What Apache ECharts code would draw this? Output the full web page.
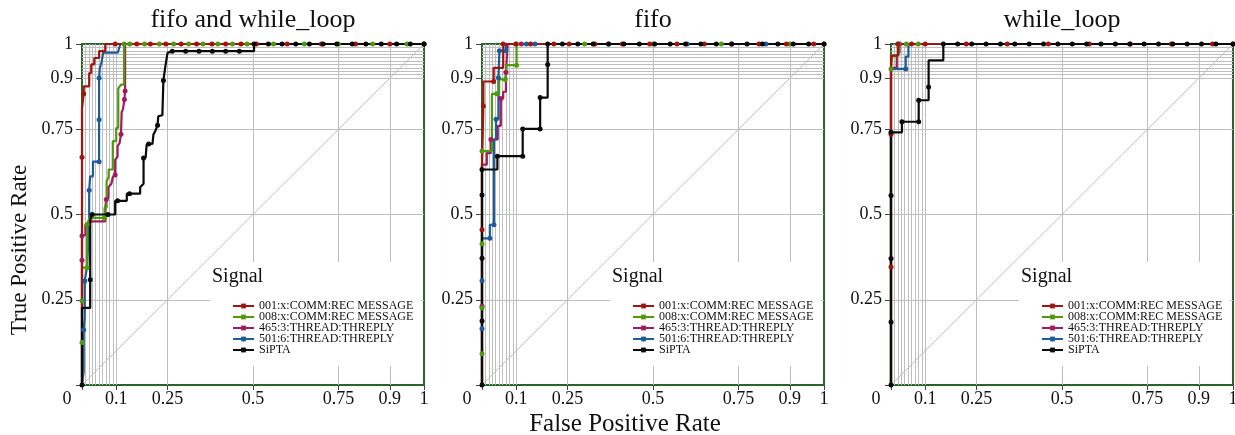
<!DOCTYPE html>
<html><head><meta charset="utf-8">
<script src="https://cdn.jsdelivr.net/npm/echarts@6/dist/echarts.min.js"></script>
<style>html,body{margin:0;padding:0;background:#fff}#c{width:1235px;height:435px}</style>
</head><body><div id="c"></div>
<script>
// ---------- data ----------
const panelTitles = ['fifo and while_loop', 'fifo', 'while_loop'];
const seriesNames = ['001:x:COMM:REC MESSAGE', '008:x:COMM:REC MESSAGE', '465:3:THREAD:THREPLY', '501:6:THREAD:THREPLY', 'SiPTA'];
const xTicks = [0, 0.1, 0.25, 0.5, 0.75, 0.9, 1];
const yTicks = [0, 0.25, 0.5, 0.75, 0.9, 1];
const xMajorGrid = [0.1, 0.25, 0.5, 0.75, 0.9];
const xMinorGrid = [0.01, 0.02, 0.03, 0.04, 0.05, 0.06, 0.07, 0.08, 0.09];
const yMajorGrid = [0.25, 0.5, 0.75, 0.9];
const yMinorGrid = [0.91, 0.92, 0.93, 0.94, 0.95, 0.96, 0.97, 0.98, 0.99];
const xAxisTitle = 'False Positive Rate';
const yAxisTitle = 'True Positive Rate';
const legendTitle = 'Signal';

// ROC points: [FPR, TPR, marker(1) or path corner(0)]
// panel 1: fifo and while_loop
const p1_001 = [[0,0,0],[0,0.44,0],[0,0.668,1],[0,0.81,0],[0.005,0.81,0],[0.005,0.854,1],[0.005,0.876,0],[0.021,0.876,0],[0.021,0.915,0],[0.027,0.915,0],[0.027,0.94,0],[0.036,0.94,0],[0.036,0.959,0],[0.05,0.959,0],[0.05,0.979,0],[0.068,0.979,0],[0.068,1,0],[0.097,1,1],[0.16,1,1],[0.2,1,1],[0.245,1,1],[0.29,1,1],[0.335,1,1],[0.38,1,1],[0.42,1,1],[0.465,1,1],[0.51,1,1],[0.6,1,1],[0.7,1,1],[0.8,1,1],[0.9,1,1],[1,1,1]];
const p1_008 = [[0,0,0],[0,0.125,1],[0,0.247,1],[0,0.344,0],[0.015,0.344,1],[0.015,0.471,1],[0.022,0.49,0],[0.066,0.49,1],[0.066,0.52,0],[0.072,0.52,0],[0.072,0.598,0],[0.078,0.61,0],[0.078,0.632,0],[0.09,0.632,0],[0.09,0.715,0],[0.1,0.715,0],[0.1,0.754,0],[0.106,0.754,0],[0.106,0.87,0],[0.114,0.881,0],[0.123,0.881,0],[0.123,1,1],[0.14,1,1],[0.183,1,1],[0.226,1,1],[0.268,1,1],[0.312,1,1],[0.354,1,1],[0.397,1,1],[0.44,1,1],[0.483,1,1],[0.56,1,1],[0.65,1,1],[0.75,1,1],[0.85,1,1],[0.95,1,1],[1,1,1]];
const p1_465 = [[0,0,0],[0,0.366,1],[0,0.438,1],[0.01,0.44,0],[0.01,0.47,0],[0.03,0.48,0],[0.068,0.48,0],[0.068,0.52,0],[0.071,0.544,1],[0.077,0.55,0],[0.077,0.58,0],[0.086,0.59,0],[0.09,0.61,0],[0.097,0.616,1],[0.097,0.66,0],[0.104,0.67,0],[0.104,0.7,0],[0.11,0.71,0],[0.114,0.735,1],[0.116,0.8,0],[0.12,0.81,0],[0.124,0.837,1],[0.126,0.862,1],[0.126,1,0],[1,1,0]];
const p1_501 = [[0,0,0],[0.005,0.04,0],[0.005,0.162,1],[0.008,0.2,0],[0.008,0.305,1],[0.012,0.33,0],[0.015,0.35,0],[0.02,0.45,0],[0.021,0.5,0],[0.021,0.571,1],[0.024,0.571,0],[0.024,0.612,0],[0.032,0.612,0],[0.032,0.655,0],[0.05,0.655,1],[0.05,0.778,1],[0.05,0.9,1],[0.052,0.93,0],[0.057,0.945,0],[0.062,0.975,0],[0.105,0.975,0],[0.112,1,0],[1,1,0]];
const p1_sipta = [[0,0,1],[0,0.226,0],[0.024,0.226,0],[0.024,0.309,1],[0.024,0.48,0],[0.028,0.5,0],[0.03,0.5,1],[0.076,0.5,1],[0.097,0.5,0],[0.097,0.54,0],[0.104,0.54,1],[0.131,0.54,0],[0.131,0.561,0],[0.139,0.561,1],[0.17,0.561,0],[0.17,0.58,0],[0.18,0.59,0],[0.18,0.666,1],[0.186,0.666,0],[0.189,0.705,0],[0.195,0.707,1],[0.206,0.707,0],[0.209,0.735,0],[0.214,0.744,0],[0.221,0.762,1],[0.223,0.788,0],[0.235,0.791,0],[0.238,0.893,1],[0.243,0.93,0],[0.25,0.974,0],[0.252,0.979,0],[0.264,0.979,1],[0.303,0.979,1],[0.342,0.979,1],[0.381,0.979,1],[0.42,0.979,1],[0.46,0.979,1],[0.503,0.979,0],[0.503,1,1],[0.545,1,1],[0.585,1,1],[0.625,1,1],[0.665,1,1],[0.705,1,1],[0.745,1,1],[0.79,1,1],[0.83,1,1],[0.875,1,1],[0.92,1,1],[0.96,1,1],[1,1,1]];

// panel 2: fifo
const p2_001 = [[0,0,0],[0,0.455,1],[0,0.642,0],[0.004,0.642,0],[0.004,0.818,1],[0.004,0.89,0],[0.034,0.89,1],[0.034,0.93,0],[0.062,0.93,0],[0.062,1,1],[0.099,1,1],[0.142,1,1],[0.21,1,1],[0.255,1,1],[0.33,1,1],[0.41,1,1],[0.49,1,1],[0.57,1,1],[0.65,1,1],[0.73,1,1],[0.81,1,1],[0.89,1,1],[0.97,1,1],[1,1,1]];
const p2_008 = [[0,0,0],[0,0.092,1],[0,0.226,1],[0,0.414,1],[0,0.686,1],[0.029,0.686,0],[0.029,0.854,0],[0.043,0.854,1],[0.05,0.854,0],[0.05,0.896,0],[0.068,0.896,1],[0.072,0.896,0],[0.072,0.938,0],[0.101,0.938,1],[0.101,1,1],[0.3,1,1],[0.5,1,1],[0.7,1,1],[0.9,1,1],[1,1,0]];
const p2_465 = [[0,0,0],[0,0.231,1],[0,0.646,0],[0.014,0.646,0],[0.014,0.68,0],[0.026,0.68,0],[0.026,0.72,1],[0.046,0.72,0],[0.046,0.76,0],[0.055,0.76,0],[0.055,0.84,1],[0.062,0.84,0],[0.062,0.86,0],[0.07,0.86,0],[0.07,0.917,1],[0.075,0.917,0],[0.075,1,0],[0.115,1,1],[1,1,0]];
const p2_501 = [[0,0,0],[0,0.165,1],[0,0.306,1],[0,0.43,0],[0.023,0.43,1],[0.023,0.47,0],[0.035,0.47,1],[0.035,0.72,0],[0.041,0.72,0],[0.041,0.779,1],[0.048,0.779,0],[0.048,0.901,1],[0.051,0.901,0],[0.051,0.98,1],[0.07,0.98,1],[0.07,1,0],[0.13,1,1],[0.155,1,1],[0.37,1,1],[0.6,1,1],[0.83,1,1],[1,1,0]];
const p2_sipta = [[0,0,1],[0,0.188,1],[0,0.372,1],[0,0.557,1],[0,0.632,1],[0.045,0.632,0],[0.045,0.671,1],[0.119,0.671,1],[0.119,0.751,1],[0.17,0.751,1],[0.17,0.843,1],[0.192,0.843,0],[0.192,0.94,1],[0.192,1,1],[0.235,1,1],[0.28,1,1],[0.325,1,1],[0.37,1,1],[0.415,1,1],[0.46,1,1],[0.505,1,1],[0.55,1,1],[0.595,1,1],[0.64,1,1],[0.685,1,1],[0.73,1,1],[0.775,1,1],[0.82,1,1],[0.865,1,1],[0.91,1,1],[0.955,1,1],[1,1,1]];

// panel 3: while_loop
const p3_001 = [[0,0,0],[0,0.346,1],[0,0.735,1],[0,0.966,0],[0.02,0.966,0],[0.02,1,1],[0.06,1,1],[0.1,1,1],[0.22,1,1],[0.34,1,1],[0.46,1,1],[0.58,1,1],[0.7,1,1],[0.82,1,1],[0.94,1,1],[1,1,1]];
const p3_008 = [[0,0,0],[0,0.927,1],[0.004,0.93,0],[0.004,0.966,0],[0.022,0.966,0],[0.022,1,1],[0.045,1,1],[0.08,1,1],[1,1,0]];
const p3_465 = [[0,0,0],[0,0.93,0],[0.017,0.93,0],[0.017,0.966,0],[0.025,0.975,0],[0.025,1,1],[1,1,0]];
const p3_501 = [[0,0,0],[0,0.927,0],[0.043,0.927,1],[0.043,0.963,0],[0.051,0.963,0],[0.051,1,0],[1,1,0]];
const p3_sipta = [[0,0,1],[0,0.185,1],[0,0.371,1],[0,0.556,1],[0,0.741,1],[0.032,0.741,0],[0.032,0.772,1],[0.081,0.772,1],[0.081,0.835,1],[0.11,0.835,0],[0.11,0.874,1],[0.11,0.952,0],[0.153,0.952,0],[0.153,1,1],[0.195,1,1],[0.236,1,1],[0.278,1,1],[0.32,1,1],[0.362,1,1],[0.404,1,1],[0.446,1,1],[0.488,1,1],[0.53,1,1],[0.572,1,1],[0.614,1,1],[0.656,1,1],[0.698,1,1],[0.74,1,1],[0.782,1,1],[0.824,1,1],[0.866,1,1],[0.908,1,1],[0.95,1,1],[1,1,1]];

const panelData = [
  [p1_001, p1_008, p1_465, p1_501, p1_sipta],
  [p2_001, p2_008, p2_465, p2_501, p2_sipta],
  [p3_001, p3_008, p3_465, p3_501, p3_sipta]
];

// ---------- styling ----------
const colors = ['#a3140f', '#4f9a0c', '#a11b5f', '#1d5c9b', '#0a0a0a'];
const drawOrder = [2, 3, 1, 0, 4];
const FONT = 'Liberation Serif';
const gridLefts = [82, 482, 891];
const gridW = 342, gridTop = 44, gridH = 341;

const chart = echarts.init(document.getElementById('c'), null, {renderer: 'canvas'});

const grids = [], xAxes = [], yAxes = [], series = [], titles = [], legends = [];
panelData.forEach((pd, i) => {
  const gl = gridLefts[i];
  grids.push({left: gl, top: gridTop, width: gridW, height: gridH, show: true,
    borderColor: '#276627', borderWidth: 2, backgroundColor: 'transparent',
    containLabel: false, outerBoundsMode: 'none'});
  xAxes.push({gridIndex: i, type: 'value', min: 0, max: 1,
    axisLine: {show: false},
    axisTick: {show: true, inside: false, length: 5, customValues: xTicks, lineStyle: {color: '#444', width: 1}},
    axisLabel: {customValues: xTicks, margin: 5, fontFamily: FONT, fontSize: 18, color: '#111',
      formatter: v => v === 0 ? '{z|0}' : String(v),
      rich: {z: {padding: [0, 30, 0, 0], fontFamily: FONT, fontSize: 18, color: '#111'}}},
    splitLine: {show: false}});
  yAxes.push({gridIndex: i, type: 'value', min: 0, max: 1,
    axisLine: {show: false},
    axisTick: {show: true, inside: false, length: 6, customValues: yTicks, lineStyle: {color: '#444', width: 1}},
    axisLabel: {customValues: yTicks, margin: 9, fontFamily: FONT, fontSize: 18, color: '#111',
      formatter: v => v === 0 ? '' : String(v)},
    splitLine: {show: false}});
  // grid lines + diagonal
  const ml = [];
  xMinorGrid.concat(xMajorGrid).forEach(v => ml.push({xAxis: v}));
  yMinorGrid.concat(yMajorGrid).forEach(v => ml.push({yAxis: v}));
  ml.push([{coord: [0, 0]}, {coord: [1, 1]}]);
  series.push({type: 'line', name: 'grid' + i, xAxisIndex: i, yAxisIndex: i, data: [], silent: true,
    markLine: {silent: true, z: 1, symbol: ['none', 'none'], label: {show: false}, animation: false,
      emphasis: {disabled: true},
      lineStyle: {color: '#bebebe', width: 1, type: 'solid'}, data: ml}});
  drawOrder.forEach(k => {
    series.push({type: 'line', name: seriesNames[k], xAxisIndex: i, yAxisIndex: i, z: 3,
      symbol: 'rect', symbolSize: 5, showSymbol: true, showAllSymbol: true, clip: false,
      animation: false, silent: true, color: colors[k],
      lineStyle: {width: 2.2, color: colors[k]}, itemStyle: {color: colors[k]},
      emphasis: {disabled: true},
      data: pd[k].map(p => ({value: [p[0], p[1]], symbol: p[2] ? 'circle' : 'none'}))});
  });
  titles.push({text: panelTitles[i], left: gl + gridW / 2, textAlign: 'center', top: 7, padding: 0,
    textStyle: {fontFamily: FONT, fontSize: 26, fontWeight: 'normal', color: '#111'}});
  titles.push({text: legendTitle, left: gl + 130, top: 267, padding: 0, z: 12,
    textStyle: {fontFamily: FONT, fontSize: 20, fontWeight: 'normal', color: '#111'}});
  legends.push({orient: 'vertical', left: gl + 128, top: 262, z: 10,
    backgroundColor: '#ffffff', padding: [38, 8, 10, 22],
    itemWidth: 21, itemHeight: 6, itemGap: -1, selectedMode: false,
    textStyle: {fontFamily: FONT, fontSize: 12, lineHeight: 11, color: '#111'},
    data: seriesNames});
});

chart.setOption({
  backgroundColor: '#ffffff',
  animation: false,
  title: titles,
  legend: legends,
  grid: grids,
  xAxis: xAxes,
  yAxis: yAxes,
  series: series,
  graphic: [
    {type: 'text', x: 625, y: 424, style: {text: xAxisTitle, font: '25px "Liberation Serif"', fill: '#111', align: 'center', verticalAlign: 'middle', textAlign: 'center', textVerticalAlign: 'middle'}},
    {type: 'text', x: 20, y: 250, rotation: Math.PI / 2, style: {text: yAxisTitle, font: '23px "Liberation Serif"', fill: '#111', align: 'center', verticalAlign: 'middle', textAlign: 'center', textVerticalAlign: 'middle'}}
  ]
});
</script>
</body></html>
